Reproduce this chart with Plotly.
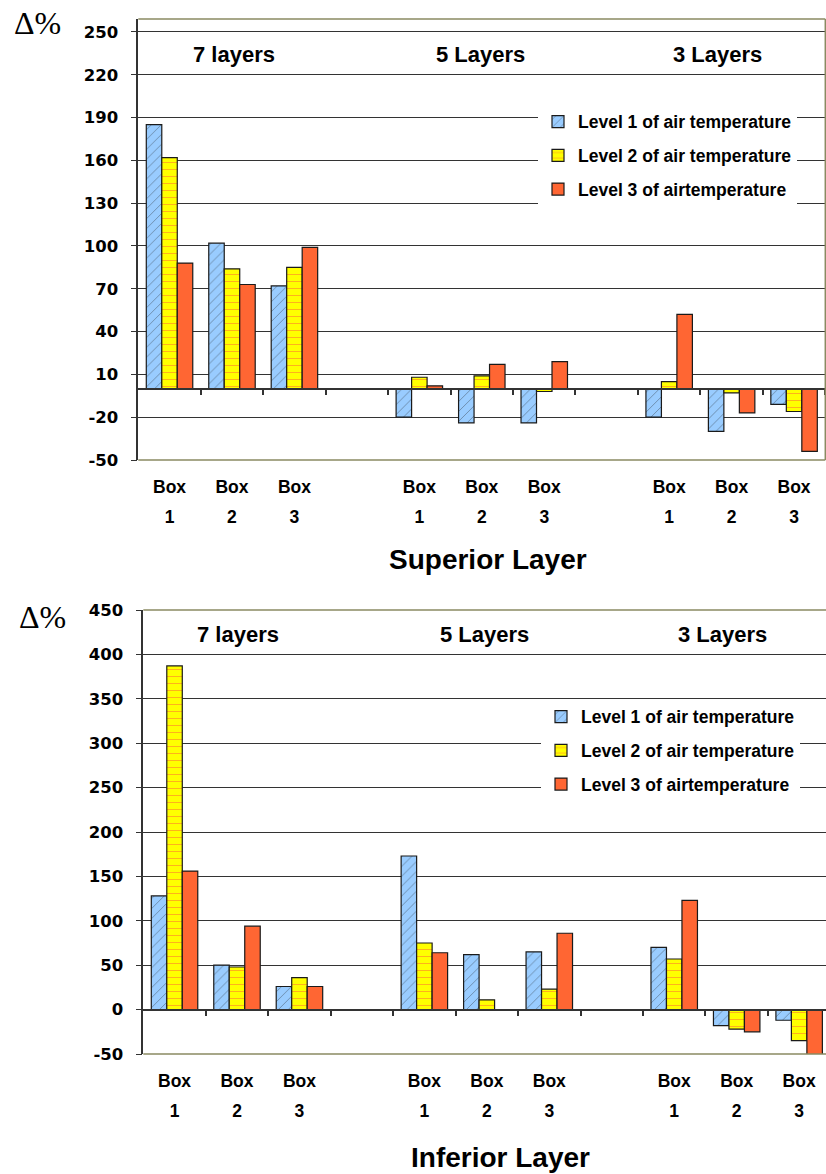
import plotly.graph_objects as go

# ---- data -------------------------------------------------------------
slot_box = ["Box", "Box", "Box", "", "Box", "Box", "Box", "", "Box", "Box", "Box"]
slot_num = ["1", "2", "3", "", "1", "2", "3", "", "1", "2", "3"]
group_labels_sup = ["7 layers", "5 Layers", "3 Layers"]
group_labels_inf = ["7 layers", "5 Layers", "3 Layers"]
series_names = ["Level 1 of air temperature",
                "Level 2 of air temperature",
                "Level 3 of airtemperature"]

# Superior layer, delta % per box (slots 3 and 7 are spacers between groups)
sup_level1 = [185, 102, 72, None, -20, -24, -24, None, -20, -30, -11]
sup_level2 = [162, 84, 85, None, 8, 9, -2, None, 5, -3, -16]
sup_level3 = [88, 73, 99, None, 2, 17, 19, None, 52, -17, -44]

# Inferior layer
inf_level1 = [128, 50, 26, None, 173, 62, 65, None, 70, -18, -12]
inf_level2 = [387, 48, 36, None, 75, 11, 23, None, 57, -22, -35]
inf_level3 = [156, 94, 26, None, 64, None, 86, None, 123, -25, -52]

sup_yticks = [-50, -20, 10, 40, 70, 100, 130, 160, 190, 220, 250]
inf_yticks = [-50, 0, 50, 100, 150, 200, 250, 300, 350, 400, 450]

# ---- geometry helpers ---------------------------------------------------
W, H = 826, 1174
slots = list(range(len(slot_box)))
label_slots = [i for i, t in enumerate(slot_box) if t]
boundaries = [i + 0.5 for i in slots]


def fx(p):
    return p / W


def fy(p):
    return 1 - p / H


def zero_pos(rng, dom):
    return dom[0] + (0 - rng[0]) / (rng[1] - rng[0]) * (dom[1] - dom[0])


SANS = "Liberation Sans, Arial, sans-serif"
NUMF = "DejaVu Sans, Verdana, sans-serif"
DARK = "#333333"
OLIVE = "#8a8a62"

sup_xdom = [fx(138.3), fx(825.3)]
sup_ydom = [fy(460), fy(19)]
sup_xrng = [-0.5, 10.5]
sup_yrng = [-50, 259.1]

inf_xdom = [fx(143.3), 1.0]
inf_ydom = [fy(1054), fy(610)]
inf_xrng = [-0.5, 10.43]
inf_yrng = [-50, 450]

styles = [
    dict(color="#99CCFF", pattern=dict(shape="/", fgcolor="#1f1f1f", bgcolor="#99CCFF",
                                       size=7, solidity=0.1)),
    dict(color="#FFFF00", pattern=dict(shape="-", fgcolor="#FF6633", bgcolor="#FFFF00",
                                       size=7, solidity=0.15)),
    dict(color="#FF6633"),
]

fig = go.Figure()

for i, (vals, name) in enumerate(zip([sup_level1, sup_level2, sup_level3], series_names)):
    fig.add_trace(go.Bar(
        x=slots, y=vals, name=name, xaxis="x", yaxis="y",
        marker=dict(**styles[i], line=dict(color="#1a1a1a", width=1.2)),
        legend="legend", legendgroup=f"s{i}",
    ))

for i, (vals, name) in enumerate(zip([inf_level1, inf_level2, inf_level3], series_names)):
    fig.add_trace(go.Bar(
        x=slots, y=vals, name=name, xaxis="x2", yaxis="y2",
        marker=dict(**styles[i], line=dict(color="#1a1a1a", width=1.2)),
        legend="legend2", legendgroup=f"i{i}",
    ))

# empty traces so the overlay axes (box numbers, zero-line ticks) get drawn
for xa, ya in [("x3", "y"), ("x4", "y"), ("x5", "y2"), ("x6", "y2")]:
    fig.add_trace(go.Scatter(x=[], y=[], xaxis=xa, yaxis=ya, mode="markers",
                             showlegend=False, hoverinfo="skip"))

boxfont = dict(family=SANS, size=17.5, color="black", weight="bold")
numfont = dict(family=NUMF, size=16.5, color="black", weight="bold")


def box_axis(dom, rng, anchor):
    return dict(type="linear", domain=dom, range=rng, anchor=anchor, tickmode="array",
                tickvals=label_slots, ticktext=[slot_box[i] for i in label_slots],
                ticks="", showgrid=False, zeroline=False, showline=False,
                tickfont=boxfont, ticklabelstandoff=14, automargin=False,
                fixedrange=True)


def num_axis(dom, rng, anchor, over):
    return dict(type="linear", domain=dom, range=rng, anchor=anchor, overlaying=over,
                side="bottom", tickmode="array", tickvals=label_slots,
                ticktext=[slot_num[i] for i in label_slots],
                ticks="", showgrid=False, zeroline=False, showline=False,
                tickfont=boxfont, ticklabelstandoff=44, automargin=False,
                fixedrange=True)


def zero_axis(dom, rng, over, pos):
    return dict(type="linear", domain=dom, range=rng, anchor="free", overlaying=over,
                position=pos, side="bottom", tickmode="array", tickvals=boundaries,
                ticks="outside", ticklen=6, tickwidth=1.5, tickcolor=DARK,
                showticklabels=False, showgrid=False, zeroline=False, showline=True,
                linecolor=DARK, linewidth=1.5, automargin=False, fixedrange=True)


def y_axis(dom, rng, ticks, anchor):
    return dict(type="linear", domain=dom, range=rng, anchor=anchor, tickmode="array",
                tickvals=ticks, ticktext=[str(v) for v in ticks],
                showgrid=True, gridcolor=DARK, gridwidth=1.3, zeroline=False,
                showline=True, linecolor=DARK, linewidth=1.5, ticks="outside",
                ticklen=6, tickwidth=1.3, tickcolor=DARK, tickfont=numfont,
                ticklabelstandoff=9, automargin=False, fixedrange=True)


legend_common = dict(xanchor="left", yanchor="top", bgcolor="white", borderwidth=0,
                     font=dict(family=SANS, size=17.5, color="black", weight="bold"),
                     tracegroupgap=8, traceorder="grouped")

gfont = dict(family=SANS, size=22, color="black", weight="bold")
annotations = []
for lab, xc in zip(group_labels_sup, [1.03, 4.98, 8.78]):
    annotations.append(dict(x=xc, y=234, xref="x", yref="y", text=lab, showarrow=False,
                            xanchor="center", yanchor="middle", font=gfont))
for lab, xc in zip(group_labels_inf, [1.02, 4.97, 8.77]):
    annotations.append(dict(x=xc, y=422, xref="x2", yref="y2", text=lab, showarrow=False,
                            xanchor="center", yanchor="middle", font=gfont))
dfont = dict(family="Liberation Serif, Times New Roman, serif", size=32, color="black")
tfont = dict(family=SANS, size=28, color="black", weight="bold")
annotations += [
    dict(x=fx(37), y=fy(23), xref="paper", yref="paper", text="Δ%", showarrow=False,
         xanchor="center", yanchor="middle", font=dfont),
    dict(x=fx(42), y=fy(617), xref="paper", yref="paper", text="Δ%", showarrow=False,
         xanchor="center", yanchor="middle", font=dfont),
    dict(x=fx(488), y=fy(560), xref="paper", yref="paper", text="Superior Layer",
         showarrow=False, xanchor="center", yanchor="middle", font=tfont),
    dict(x=fx(500), y=fy(1157), xref="paper", yref="paper", text="Inferior Layer",
         showarrow=False, xanchor="center", yanchor="middle", font=tfont),
]

# plot-area frame (top, right, bottom); the y axis line forms the left edge
shapes = []
for xr, yr, right in [("x domain", "y domain", True), ("x2 domain", "y2 domain", False)]:
    shapes.append(dict(type="line", xref=xr, yref=yr, x0=0, x1=1, y0=1, y1=1,
                       line=dict(color=OLIVE, width=1.5), layer="above"))
    shapes.append(dict(type="line", xref=xr, yref=yr, x0=0, x1=1, y0=0, y1=0,
                       line=dict(color=OLIVE, width=1.5), layer="above"))
    if right:
        shapes.append(dict(type="line", xref=xr, yref=yr, x0=1, x1=1, y0=0, y1=1,
                           line=dict(color=OLIVE, width=1.5), layer="above"))

fig.update_layout(
    width=W, height=H,
    margin=dict(l=0, r=0, t=0, b=0, autoexpand=False),
    paper_bgcolor="white", plot_bgcolor="white",
    barmode="group", bargap=0.256, bargroupgap=0,
    xaxis=box_axis(sup_xdom, sup_xrng, "y"),
    yaxis=y_axis(sup_ydom, sup_yrng, sup_yticks, "x"),
    xaxis3=num_axis(sup_xdom, sup_xrng, "y", "x"),
    xaxis4=zero_axis(sup_xdom, sup_xrng, "x", zero_pos(sup_yrng, sup_ydom)),
    xaxis2=box_axis(inf_xdom, inf_xrng, "y2"),
    yaxis2=y_axis(inf_ydom, inf_yrng, inf_yticks, "x2"),
    xaxis5=num_axis(inf_xdom, inf_xrng, "y2", "x2"),
    xaxis6=zero_axis(inf_xdom, inf_xrng, "x2", zero_pos(inf_yrng, inf_ydom)),
    legend=dict(x=fx(538), y=fy(103.7), **legend_common),
    legend2=dict(x=fx(541), y=fy(698.7), **legend_common),
    annotations=annotations,
    shapes=shapes,
    showlegend=True,
)

fig.write_html("out.html")
